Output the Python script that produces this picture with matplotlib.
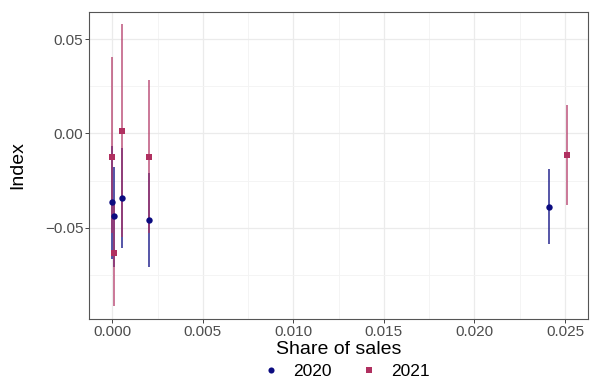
import matplotlib.pyplot as plt
from matplotlib.lines import Line2D
import numpy as np

plt.rcParams['font.family'] = ['Liberation Sans', 'DejaVu Sans']

# estimates
share_2020 = [0.0, 0.00011, 0.00052, 0.00204, 0.02413]
index_2020 = [-0.0366, -0.0438, -0.0343, -0.0459, -0.0389]
low_2020 = [-0.0667, -0.0707, -0.0609, -0.0707, -0.0588]
high_2020 = [-0.0065, -0.0177, -0.0076, -0.0212, -0.0189]

share_2021 = [0.0, 0.00011, 0.00052, 0.00204, 0.02509]
index_2021 = [-0.0124, -0.0633, 0.0014, -0.0124, -0.0113]
low_2021 = [-0.0530, -0.0914, -0.0550, -0.0530, -0.0382]
high_2021 = [0.0403, -0.0352, 0.0578, 0.0282, 0.0152]

x_ticks = [0.000, 0.005, 0.010, 0.015, 0.020, 0.025]
y_ticks = [-0.05, 0.00, 0.05]

blue = '#0B0B80'
red = '#B03060'

fig = plt.figure(figsize=(5.9, 3.79), dpi=100)
ax = fig.add_axes([0.1508, 0.1583, 0.8458, 0.8108])

# error bars first, then the points
ax.vlines(share_2020, low_2020, high_2020, color=blue, alpha=0.75, lw=1.3, zorder=3)
ax.vlines(share_2021, low_2021, high_2021, color=red, alpha=0.7, lw=1.3, zorder=3)
ax.plot(share_2020, index_2020, 'o', color=blue, ms=4.6, mew=0, zorder=4)
ax.plot(share_2021, index_2021, 's', color=red, ms=4.2, mew=0, zorder=4)

ax.set_xlim(-0.00129, 0.02627)
ax.set_ylim(-0.0984, 0.0645)
ax.set_xticks(x_ticks)
ax.set_xticklabels([f'{v:.3f}' for v in x_ticks])
ax.set_yticks(y_ticks)
ax.set_yticklabels([f'{v:.2f}'.replace('-', '\u2212') for v in y_ticks])
ax.set_xticks(np.arange(0.0025, 0.026, 0.005), minor=True)
ax.set_yticks([-0.075, -0.025, 0.025], minor=True)

# ggplot theme_bw look
ax.grid(True, which='major', color='#EBEBEB', lw=0.9, zorder=0)
ax.grid(True, which='minor', color='#F3F3F3', lw=0.6, zorder=0)
ax.set_axisbelow(True)
for s in ax.spines.values():
    s.set_color('#555555')
    s.set_linewidth(0.8)
ax.tick_params(which='major', length=3, width=0.7, color='#444444',
               labelsize=11, labelcolor='#4D4D4D', pad=1)
ax.tick_params(which='minor', length=0)

ax.set_xlabel('Share of sales', fontsize=14)
ax.xaxis.set_label_coords(0.5, -0.1)
ax.xaxis.label.set_va('center')
ax.set_ylabel('Index', fontsize=14)
ax.yaxis.set_label_coords(-0.142, 0.5)
ax.yaxis.label.set_va('center')

handles = [Line2D([], [], ls='none', marker='o', color=blue, ms=4.4, mew=0),
           Line2D([], [], ls='none', marker='s', color=red, ms=4.2, mew=0)]
fig.legend(handles, ['2020', '2021'], loc='center', bbox_to_anchor=(0.585, 0.019),
           ncol=2, frameon=False, fontsize=12.5, handletextpad=0.7, columnspacing=1.5,
           handlelength=1.2, borderpad=0.1)

plt.savefig('out.png', dpi=100)
